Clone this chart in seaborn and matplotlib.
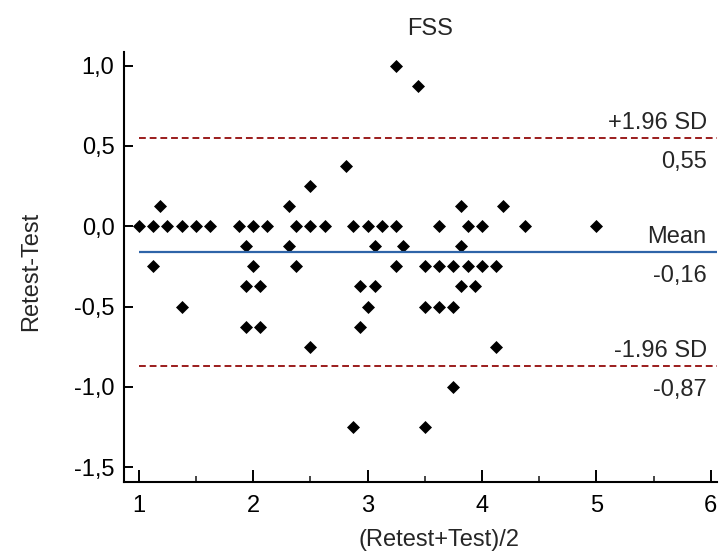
import pandas as pd
import seaborn as sns
import matplotlib.pyplot as plt
from matplotlib.ticker import MultipleLocator, FuncFormatter

# mean of the two tests (x) and retest minus test (y)
avg = [1.0, 1.125, 1.25, 1.375, 1.5, 1.625, 1.875, 2.0, 2.125, 2.375, 2.5, 2.625, 2.875,
       3.0, 3.125, 3.25, 3.625, 3.875, 4.0, 4.375, 5.0,
       1.1875, 2.3125, 3.8125, 4.1875,
       2.5, 2.8125, 3.25, 3.4375,
       1.9375, 2.3125, 3.0625, 3.3125, 3.8125,
       1.125, 2.0, 2.375, 3.25, 3.5, 3.625, 3.75, 3.875, 4.0, 4.125,
       1.9375, 2.0625, 2.9375, 3.0625, 3.8125, 3.9375,
       1.375, 3.0, 3.5, 3.625, 3.75,
       1.9375, 2.0625, 2.9375,
       2.5, 4.125,
       3.75,
       2.875, 3.5]
diff = [0.0] * 21 + \
       [0.125] * 4 + \
       [0.25, 0.375, 1.0, 0.875] + \
       [-0.125] * 5 + \
       [-0.25] * 10 + \
       [-0.375] * 6 + \
       [-0.5] * 5 + \
       [-0.625] * 3 + \
       [-0.75] * 2 + \
       [-1.0] + \
       [-1.25] * 2

mean_diff = -0.16
upper_loa = 0.55
lower_loa = -0.87

df = pd.DataFrame({"avg": avg, "diff": diff})

sns.set_style("ticks")
plt.rcParams["font.family"] = ["Liberation Sans", "DejaVu Sans"]

fig = plt.figure(figsize=(7.26, 5.56), dpi=100)
ax = fig.add_axes([0.171, 0.133, 0.816, 0.773])

sns.scatterplot(data=df, x="avg", y="diff", marker="D", s=44,
                color="black", linewidth=0, ax=ax)

# mean and limits of agreement
ax.hlines(mean_diff, 1.0, 6.05, color="#2e64a8", linewidth=1.6)
ax.hlines([upper_loa, lower_loa], 1.0, 6.05, color="#9b1c1c",
          linewidth=1.4, linestyles=(0, (3.5, 2)))

fs = 17
labels = [(upper_loa, "+1.96 SD"), (mean_diff, "Mean"), (lower_loa, "-1.96 SD")]
for yv, name in labels:
    ax.annotate(name, (6.0, yv), xytext=(-3, 6.5), textcoords="offset points",
                ha="right", va="baseline", fontsize=fs)
    ax.annotate(f"{yv:.2f}".replace(".", ","), (6.0, yv), xytext=(-3, -21.5),
                textcoords="offset points", ha="right", va="baseline", fontsize=fs)

ax.set_xlim(0.873, 6.05)
ax.set_ylim(-1.593, 1.083)
ax.xaxis.set_major_locator(MultipleLocator(1))
ax.xaxis.set_minor_locator(MultipleLocator(0.5))
ax.yaxis.set_major_locator(MultipleLocator(0.5))
ax.yaxis.set_major_formatter(FuncFormatter(lambda v, p: f"{v:.1f}".replace(".", ",")))

ax.tick_params(axis="both", which="major", direction="in", width=1.4,
               labelsize=fs, colors="black")
ax.tick_params(axis="x", which="major", length=9, pad=9)
ax.tick_params(axis="y", which="major", length=6.5, pad=7)
ax.tick_params(axis="x", which="minor", direction="in", length=4, width=1.2)

for side in ["left", "bottom"]:
    ax.spines[side].set_linewidth(1.5)
    ax.spines[side].set_color("black")
sns.despine(ax=ax)

ax.set_xlabel("")
ax.set_ylabel("Retest-Test", fontsize=fs)
ax.yaxis.set_label_coords(-0.138, 0.49)
fig.text(0.605, 0.028, "(Retest+Test)/2", ha="center", va="center", fontsize=fs)
fig.text(0.592, 0.948, "FSS", ha="center", va="center", fontsize=fs)

fig.savefig("out.png", dpi=100)
